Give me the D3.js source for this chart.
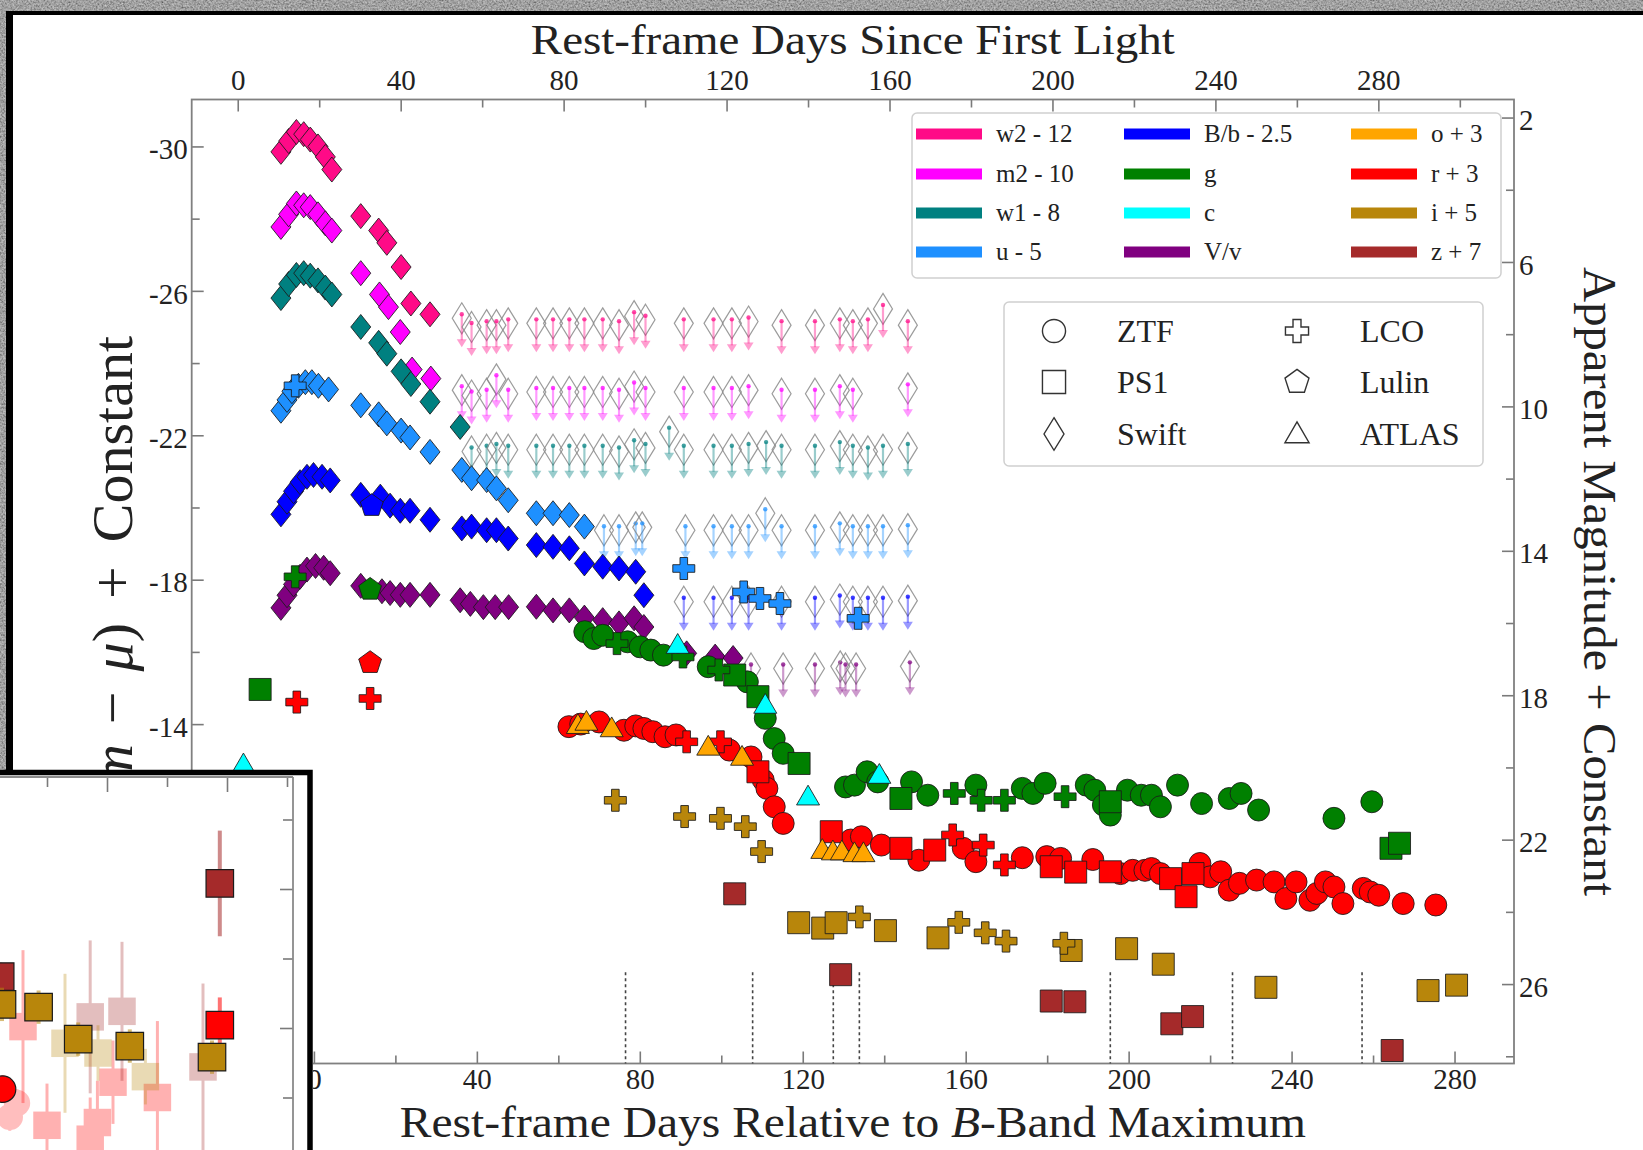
<!DOCTYPE html>
<html><head><meta charset="utf-8">
<script src="https://cdn.jsdelivr.net/npm/d3@7"></script>
<style>body{margin:0;background:#555;overflow:hidden}svg{display:block}</style>
</head><body>
<svg id="c" width="1643" height="1150"></svg>
<script>
// ---------------- DATA ----------------
const X_DOMAIN = [-30, 294.6];          // rest-frame days relative to B max
const Y_DOMAIN = [-31.3, -4.6];         // (m - mu) + const
const FIRST_LIGHT_OFFSET = 18.7;        // top axis = bottom + offset
const APPARENT_OFFSET = 32.8;           // right axis = left + offset
const X_MAJOR = [0,40,80,120,160,200,240,280];
const X_MINOR = [-20,20,60,100,140,180,220,260];
const XTOP_MAJOR = [0,40,80,120,160,200,240,280];
const XTOP_MINOR = [20,60,100,140,180,220,260,300];
const Y_MAJOR = [-30,-26,-22,-18,-14,-10,-6];
const Y_MINOR = [-28,-24,-20,-16,-12,-8];
const YR_MAJOR = [2,6,10,14,18,22,26];
const YR_MINOR = [4,8,12,16,20,24,28];
const SPECTRA_EPOCHS = [76.5,107.7,127.5,133.9,195.5,225.5,257.3];
const SPECTRA_TOP = -7.13;

const W2_SWIFT = [[-8.1,-29.85],[-6.2,-30.15],[-4.3,-30.4],[-2.5,-30.34],[-0.9,-30.19],[1.0,-30.0],[2.8,-29.71],[4.4,-29.36],[11.5,-28.07],[15.9,-27.67],[17.9,-27.33],[21.4,-26.66],[23.8,-25.65],[28.5,-25.35]];
const M2_SWIFT = [[-8.1,-27.77],[-6.2,-28.12],[-4.3,-28.42],[-2.5,-28.37],[-0.9,-28.32],[1.0,-28.12],[2.8,-27.87],[4.4,-27.67],[11.5,-26.49],[16.1,-25.9],[18.3,-25.55],[21.2,-24.86],[24.1,-23.82],[28.7,-23.57]];
const W1_SWIFT = [[-8.1,-25.8],[-6.2,-26.19],[-4.3,-26.44],[-2.5,-26.49],[-0.9,-26.42],[1.0,-26.29],[2.8,-26.09],[4.4,-25.9],[11.5,-25.0],[15.9,-24.56],[17.9,-24.26],[21.4,-23.77],[23.8,-23.42],[28.5,-22.93],[35.9,-22.23]];
const U_SWIFT = [[-8.1,-22.68],[-6.6,-22.98],[-5.4,-23.22],[-3.8,-23.37],[-2.1,-23.47],[-0.5,-23.47],[1.1,-23.37],[3.6,-23.27],[11.5,-22.83],[15.9,-22.58],[17.9,-22.33],[21.4,-22.13],[23.6,-21.94],[28.5,-21.54],[36.3,-21.04],[38.7,-20.81],[42.4,-20.76],[44.8,-20.53],[47.7,-20.2],[54.6,-19.84],[58.7,-19.84],[62.7,-19.79],[66.4,-19.47]];
const U_LCO = [[-4.6,-23.37],[90.8,-18.31],[105.5,-17.66],[109.5,-17.48],[114.4,-17.34],[133.6,-16.93]];
const B_SWIFT = [[-8.1,-19.81],[-6.6,-20.16],[-5.0,-20.45],[-3.4,-20.7],[-1.7,-20.85],[-0.1,-20.9],[2.0,-20.85],[4.0,-20.75],[11.5,-20.35],[16.3,-20.3],[18.7,-20.05],[21.2,-19.91],[23.6,-19.91],[28.5,-19.66],[36.3,-19.42],[38.7,-19.47],[42.4,-19.37],[44.8,-19.37],[47.7,-19.14],[54.6,-18.96],[58.7,-18.91],[62.7,-18.87],[66.4,-18.45],[70.9,-18.36],[74.9,-18.31],[79.0,-18.22],[81.0,-17.57]];
const B_LULIN = [[14.2,-20.05]];
const V_SWIFT = [[-8.1,-17.22],[-6.6,-17.57],[-5.0,-17.87],[-3.4,-18.08],[-1.7,-18.28],[0.4,-18.38],[2.4,-18.33],[4.0,-18.18],[11.5,-17.83],[16.7,-17.68],[18.7,-17.63],[21.2,-17.58],[23.6,-17.58],[28.5,-17.58],[35.9,-17.43],[38.4,-17.33],[41.6,-17.24],[44.5,-17.24],[47.8,-17.24],[54.6,-17.25],[58.7,-17.15],[62.7,-17.15],[66.4,-16.95],[70.9,-16.88],[74.9,-16.79],[78.6,-16.93],[81.0,-16.69],[91.5,-15.96],[98.5,-15.87],[102.9,-15.83]];
const G_ZTF = [[66.5,-16.56],[68.7,-16.37],[70.9,-16.46],[77.0,-16.28],[80.1,-16.14],[82.7,-16.05],[85.8,-15.91],[96.8,-15.59],[106.4,-15.17],[110.8,-14.16],[113.0,-13.6],[115.2,-13.19],[130.5,-12.26],[132.7,-12.31],[135.8,-12.68],[138.4,-12.4],[146.7,-12.4],[150.7,-12.03],[162.5,-12.31],[173.9,-12.22],[176.5,-12.08],[179.5,-12.36],[189.6,-12.31],[191.7,-12.17],[193.8,-11.76],[195.5,-11.48],[199.7,-12.17],[203.1,-12.03],[205.6,-12.03],[207.8,-11.71],[212.0,-12.31],[217.9,-11.8],[224.7,-11.94],[227.6,-12.08],[231.9,-11.62],[250.4,-11.39],[259.7,-11.85]];
const G_PS1 = [[-13.2,-14.96],[103.3,-15.36],[109.0,-14.76],[119.1,-12.91],[144.1,-11.94],[195.5,-11.85],[264.4,-10.56],[266.5,-10.7]];
const G_LCO = [[-4.6,-18.08],[74.4,-16.23],[90.6,-15.86],[99.4,-15.5],[157.2,-12.08],[163.8,-11.89],[169.5,-11.89],[184.4,-11.99]];
const G_LULIN = [[13.8,-17.73]];
const C_ATLAS = [[-17.3,-12.88],[89.3,-16.19],[110.8,-14.53],[121.3,-11.99],[138.8,-12.59]];
const R_ZTF = [[62.6,-13.93],[65.5,-14.0],[70.0,-14.06],[76.1,-13.83],[79.0,-13.95],[81.0,-13.88],[83.2,-13.79],[86.2,-13.65],[88.9,-13.7],[102.0,-13.28],[107.3,-13.09],[110.3,-12.45],[111.2,-12.22],[113.0,-11.71],[115.2,-11.25],[131.8,-10.79],[134.4,-10.88],[139.3,-10.65],[148.5,-10.23],[159.4,-10.56],[162.5,-10.19],[173.9,-10.3],[179.9,-10.33],[183.3,-10.28],[191.2,-10.25],[198.0,-9.86],[201.0,-9.95],[204.0,-9.95],[205.6,-10.0],[207.8,-9.86],[217.5,-10.14],[220.0,-9.77],[222.6,-9.91],[224.7,-9.4],[227.2,-9.59],[231.4,-9.68],[235.7,-9.63],[238.6,-9.17],[241.1,-9.63],[244.5,-9.12],[246.2,-9.31],[248.3,-9.63],[250.4,-9.49],[252.6,-9.03],[257.6,-9.45],[259.3,-9.35],[261.4,-9.26],[267.4,-9.03],[275.4,-8.99]];
const R_PS1 = [[109.0,-12.68],[127.0,-11.02],[144.1,-10.56],[152.4,-10.51],[181.0,-10.05],[187.0,-9.9],[195.5,-9.91],[210.3,-9.72],[214.1,-9.22],[215.8,-9.86]];
const R_LCO = [[-4.2,-14.61],[13.8,-14.71],[91.5,-13.51],[99.8,-13.51],[156.8,-10.93],[164.3,-10.65],[169.5,-10.1]];
const R_LULIN = [[13.8,-15.7]];
const O_ATLAS = [[64.8,-13.97],[66.9,-14.06],[73.1,-13.88],[96.8,-13.37],[105.1,-13.09],[124.8,-10.51],[127.4,-10.47],[129.6,-10.47],[132.7,-10.42],[134.9,-10.42]];
const I_LCO = [[74.0,-11.89],[91.0,-11.44],[99.8,-11.39],[105.9,-11.16],[109.9,-10.47],[133.9,-8.66],[158.3,-8.51],[164.8,-8.22],[169.9,-7.99],[184.1,-7.93]];
const I_PS1 = [[119.0,-8.5],[124.9,-8.35],[128.2,-8.5],[140.3,-8.28],[153.2,-8.08],[185.9,-7.73],[199.5,-7.78],[208.5,-7.35],[233.7,-6.71],[273.5,-6.62],[280.5,-6.77]];
const Z_PS1 = [[103.3,-9.3],[129.3,-7.06],[181.0,-6.33],[186.8,-6.31],[210.6,-5.7],[215.7,-5.9],[264.7,-4.96]];

// Swift upper limits [day, limiting mag]
const LIM_W2 = [[36.3,-25.24],[38.7,-25.0],[42.4,-25.05],[44.8,-25.05],[47.7,-25.1],[54.6,-25.1],[58.7,-25.1],[62.7,-25.1],[66.4,-25.1],[70.9,-25.1],[74.9,-25.05],[78.6,-25.3],[81.4,-25.2],[90.8,-25.1],[98.1,-25.1],[102.6,-25.1],[106.7,-25.15],[114.8,-25.05],[123.0,-25.05],[129.1,-25.1],[132.3,-25.05],[136.0,-25.1],[139.7,-25.5],[145.8,-25.05]];
const LIM_M2 = [[36.3,-23.25],[38.7,-23.1],[42.4,-23.15],[44.8,-23.55],[47.7,-23.15],[54.6,-23.2],[58.7,-23.2],[62.7,-23.2],[66.4,-23.2],[70.9,-23.2],[74.9,-23.15],[78.6,-23.35],[81.4,-23.2],[90.8,-23.2],[98.1,-23.2],[102.6,-23.2],[106.7,-23.25],[114.8,-23.15],[123.0,-23.15],[129.1,-23.25],[132.3,-23.15],[145.8,-23.3]];
const LIM_W1 = [[38.7,-21.55],[42.4,-21.6],[44.8,-21.65],[47.7,-21.6],[54.6,-21.6],[58.7,-21.6],[62.7,-21.6],[66.4,-21.6],[70.9,-21.6],[74.9,-21.55],[78.6,-21.75],[81.4,-21.65],[87.2,-22.1],[90.8,-21.6],[98.1,-21.6],[102.6,-21.6],[106.7,-21.65],[111.0,-21.7],[114.8,-21.6],[123.0,-21.6],[129.1,-21.7],[132.3,-21.6],[136.0,-21.55],[139.7,-21.6],[145.8,-21.65]];
const LIM_U = [[71.2,-19.37],[74.9,-19.37],[79.0,-19.45],[80.6,-19.45],[91.2,-19.37],[98.1,-19.37],[102.6,-19.37],[106.7,-19.37],[110.8,-19.84],[114.8,-19.37],[123.0,-19.37],[129.1,-19.45],[132.3,-19.37],[136.0,-19.37],[139.7,-19.37],[145.8,-19.4]];
const LIM_B = [[90.8,-17.39],[98.1,-17.39],[102.6,-17.39],[106.7,-17.39],[114.8,-17.39],[123.0,-17.39],[129.1,-17.45],[132.3,-17.39],[136.0,-17.39],[139.7,-17.39],[145.8,-17.42]];
const LIM_V = [[107.3,-15.54],[115.2,-15.54],[123.0,-15.54],[129.2,-15.6],[130.5,-15.54],[133.1,-15.54],[146.3,-15.6]];

// legend
const BAND_LABELS = [["w2 - 12","m2 - 10","w1 - 8","u - 5"],["B/b - 2.5","g","c","V/v"],["o + 3","r + 3","i + 5","z + 7"]];
const BAND_KEYS = [["w2","m2","w1","u"],["B","g","c","V"],["o","r","i","z"]];
const INSTR_LABELS = [["ZTF","PS1","Swift"],["LCO","Lulin","ATLAS"]];
const INSTR_SHAPES = [["circle","square","diamond"],["plus","pentagon","triangle"]];

// inset (zoomed view): [x, y, err]
const INSET_Z = [[259.4,23.96,0.38],[241.1,24.63,0.1]];
const INSET_R_SQ = [[259.4,24.98,0.2]];
const INSET_I = [[241.25,24.83,0.12],[244.3,24.85,0.12],[247.6,25.08,0.12],[251.9,25.13,0.12],[258.75,25.21,0.12]];
const INSET_R_CIRC = [[241.3,25.44,0.1]];
const INSET_FADED_R = [[243.0,24.99,0.55],[250.5,25.39,0.3],[254.2,25.5,0.55],[245.0,25.7,0.3],[249.2,25.68,0.3],[248.6,25.8,0.3]];
const INSET_FADED_Z = [[248.6,24.92,0.55],[251.25,24.88,0.5],[258.0,25.28,0.6]];
const INSET_FADED_I = [[246.5,25.11,0.5],[249.25,25.18,0.2],[253.2,25.35,0.2]];
const INSET_FADED_RC = [[242.5,25.54,0.1],[241.9,25.64,0.1]];
const INSET_X_TICKS = [245,250,255,260,265];
const INSET_Y_TICKS = [23.5,24,24.5,25,25.5];

// ---------------- STYLE / LAYOUT ----------------
const COLORS = {w2:"#ff0a87",m2:"#ff00ff",w1:"#008080",u:"#1e90ff",B:"#0000ff",g:"#008000",c:"#00ffff",V:"#800080",o:"#ffa500",r:"#ff0000",i:"#b8860b",z:"#a52a2a"};
const FONT = "'Liberation Serif','DejaVu Serif',serif";
const PL = 191.7, PR = 1514, PT = 99.5, PB = 1063.5;

const svg = d3.select("#c");
const defs = svg.append("defs");
const f = defs.append("filter").attr("id","tex").attr("x",0).attr("y",0).attr("width","100%").attr("height","100%");
f.append("feTurbulence").attr("type","fractalNoise").attr("baseFrequency",0.55).attr("numOctaves",3).attr("seed",7);
f.append("feColorMatrix").attr("type","matrix").attr("values","0.6 0 0 0 0.05  0.6 0 0 0 0.05  0.6 0 0 0 0.05  0 0 0 0 1");
defs.append("clipPath").attr("id","plotclip").append("rect").attr("x",PL).attr("y",PT).attr("width",PR-PL).attr("height",PB-PT);
defs.append("clipPath").attr("id","insetclip").append("rect").attr("x",0).attr("y",777).attr("width",293).attr("height",380);

// background texture and frame
svg.append("rect").attr("width",1643).attr("height",1150).attr("filter","url(#tex)");
svg.append("rect").attr("x",6).attr("y",11).attr("width",2000).attr("height",2000).attr("fill","#000");
svg.append("rect").attr("x",13).attr("y",15).attr("width",2000).attr("height",2000).attr("fill","#fff");

// scales
const x = d3.scaleLinear().domain(X_DOMAIN).range([PL,PR]);
const xTop = d3.scaleLinear().domain(X_DOMAIN.map(d=>d+FIRST_LIGHT_OFFSET)).range([PL,PR]);
const y = d3.scaleLinear().domain(Y_DOMAIN).range([PT,PB]);
const yR = d3.scaleLinear().domain(Y_DOMAIN.map(d=>d+APPARENT_OFFSET)).range([PT,PB]);

// marker shapes
function shapePath(s, k=1){
  switch(s){
    case "circle": {const r=11*k; return `M${r},0A${r},${r} 0 1,1 ${-r},0A${r},${r} 0 1,1 ${r},0Z`;}
    case "square": {const h=11*k; return `M${-h},${-h}H${h}V${h}H${-h}Z`;}
    case "diamond": {const w=10*k,h=12.5*k; return `M0,${-h}L${w},0L0,${h}L${-w},0Z`;}
    case "limdiamond": {const w=9.5*k,h=15.5*k; return `M0,${-h}L${w},0L0,${h}L${-w},0Z`;}
    case "triangle": {const h=11.5*k; return `M0,${-h}L${h},${h*0.72}L${-h},${h*0.72}Z`;}
    case "plus": {const a=11*k,t=3.8*k; return `M${-t},${-a}H${t}V${-t}H${a}V${t}H${t}V${a}H${-t}V${t}H${-a}V${-t}H${-t}Z`;}
    case "pentagon": {const r=12*k; return d3.range(5).map((i,j)=>{const an=-Math.PI/2+i*2*Math.PI/5;return (j?"L":"M")+(r*Math.cos(an)).toFixed(2)+","+(r*Math.sin(an)).toFixed(2);}).join("")+"Z";}
  }
}

// axes
function styleAxis(g){
  g.select(".domain").remove();
  g.selectAll(".tick line").attr("stroke","#7a7a7a").attr("stroke-width",1.6);
  g.selectAll(".tick text").attr("fill","#222").attr("font-family",FONT).attr("font-size",29);
}
const gAx = svg.append("g");
gAx.append("g").attr("transform",`translate(0,${PB})`).call(d3.axisBottom(x).tickValues(X_MAJOR).tickSize(-12).tickPadding(5).tickFormat(d=>String(d))).call(styleAxis);
gAx.append("g").attr("transform",`translate(0,${PB})`).call(d3.axisBottom(x).tickValues(X_MINOR).tickSize(-8).tickFormat("")).call(styleAxis);
gAx.append("g").attr("transform",`translate(0,${PT})`).call(d3.axisTop(xTop).tickValues(XTOP_MAJOR).tickSize(-12).tickPadding(10).tickFormat(d=>String(d))).call(styleAxis);
gAx.append("g").attr("transform",`translate(0,${PT})`).call(d3.axisTop(xTop).tickValues(XTOP_MINOR).tickSize(-8).tickFormat("")).call(styleAxis);
gAx.append("g").attr("transform",`translate(${PL},0)`).call(d3.axisLeft(y).tickValues(Y_MAJOR).tickSize(-12).tickPadding(4).tickFormat(d=>String(d))).call(styleAxis).selectAll(".tick text").attr("dy","0.42em");
gAx.append("g").attr("transform",`translate(${PL},0)`).call(d3.axisLeft(y).tickValues(Y_MINOR).tickSize(-8).tickFormat("")).call(styleAxis);
gAx.append("g").attr("transform",`translate(${PR},0)`).call(d3.axisRight(yR).tickValues(YR_MAJOR).tickSize(-12).tickPadding(5).tickFormat(d=>String(d))).call(styleAxis).selectAll(".tick text").attr("dy","0.42em");
gAx.append("g").attr("transform",`translate(${PR},0)`).call(d3.axisRight(yR).tickValues(YR_MINOR).tickSize(-8).tickFormat("")).call(styleAxis);
svg.append("rect").attr("x",PL).attr("y",PT).attr("width",PR-PL).attr("height",PB-PT).attr("fill","none").attr("stroke","#808080").attr("stroke-width",1.8);

// axis labels
svg.append("text").attr("x",(PL+PR)/2).attr("y",54).attr("text-anchor","middle").attr("font-family",FONT).attr("font-size",43).attr("fill","#222")
  .attr("textLength",644).attr("lengthAdjust","spacingAndGlyphs").text("Rest-frame Days Since First Light");
const bl = svg.append("text").attr("x",(PL+PR)/2).attr("y",1137).attr("text-anchor","middle").attr("font-family",FONT).attr("font-size",45).attr("fill","#222")
  .attr("textLength",906).attr("lengthAdjust","spacingAndGlyphs");
bl.append("tspan").text("Rest-frame Days Relative to ");
bl.append("tspan").attr("font-style","italic").text("B");
bl.append("tspan").text("-Band Maximum");
svg.append("text").attr("transform",`translate(1584,${(PT+PB)/2}) rotate(90)`).attr("text-anchor","middle").attr("font-family",FONT).attr("font-size",46).attr("fill","#222")
  .attr("textLength",629).attr("lengthAdjust","spacingAndGlyphs").text("Apparent Magnitude + Constant");
const ll = svg.append("text").attr("transform",`translate(132,336) rotate(-90)`).attr("text-anchor","end").attr("font-family",FONT).attr("font-size",58).attr("fill","#222");
ll.append("tspan").text("(");
ll.append("tspan").attr("font-style","italic").text("m");
ll.append("tspan").attr("dx",20).text("−");
ll.append("tspan").attr("dx",20).attr("font-style","italic").text("μ");
ll.append("tspan").text(")");
ll.append("tspan").attr("dx",24).text("+");
ll.append("tspan").attr("dx",24).text("Constant");

// dashed spectra lines
svg.append("g").selectAll("line").data(SPECTRA_EPOCHS).join("line")
  .attr("x1",d=>x(d)).attr("x2",d=>x(d)).attr("y1",y(SPECTRA_TOP)).attr("y2",PB)
  .attr("stroke","#444").attr("stroke-width",1.6).attr("stroke-dasharray","3,3");

// plot data
const gP = svg.append("g").attr("clip-path","url(#plotclip)");

function drawLimits(data, band){
  const c = COLORS[band];
  const g = gP.append("g");
  const it = g.selectAll("g").data(data).join("g").attr("transform",d=>`translate(${x(d[0])},${y(d[1])})`);
  it.append("path").attr("d",shapePath("limdiamond")).attr("fill","none").attr("stroke","#8a8a8a").attr("stroke-width",1.2).attr("opacity",0.85);
  it.append("line").attr("x1",0).attr("x2",0).attr("y1",-4).attr("y2",22).attr("stroke",c).attr("stroke-opacity",0.4).attr("stroke-width",2.2);
  it.append("path").attr("d","M-5,21L5,21L0,29Z").attr("fill",c).attr("fill-opacity",0.4);
  it.append("circle").attr("cx",0).attr("cy",-4).attr("r",2.2).attr("fill",c).attr("fill-opacity",0.75);
}
function drawSet(data, shape, band){
  gP.append("g").selectAll("path").data(data).join("path")
    .attr("d",shapePath(shape))
    .attr("transform",d=>`translate(${x(d[0])},${y(d[1])})`)
    .attr("fill",COLORS[band]).attr("stroke","#1a1a1a").attr("stroke-width",1).attr("stroke-opacity",0.85);
}
drawLimits(LIM_W2,"w2"); drawLimits(LIM_M2,"m2"); drawLimits(LIM_W1,"w1");
drawLimits(LIM_U,"u"); drawLimits(LIM_B,"B"); drawLimits(LIM_V,"V");

drawSet(W2_SWIFT,"diamond","w2");
drawSet(M2_SWIFT,"diamond","m2");
drawSet(W1_SWIFT,"diamond","w1");
drawSet(U_SWIFT,"diamond","u");
drawSet(U_LCO,"plus","u");
drawSet(B_SWIFT,"diamond","B");
drawSet(B_LULIN,"pentagon","B");
drawSet(V_SWIFT,"diamond","V");
drawSet(G_ZTF,"circle","g");
drawSet(G_PS1,"square","g");
drawSet(G_LCO,"plus","g");
drawSet(G_LULIN,"pentagon","g");
drawSet(C_ATLAS,"triangle","c");
drawSet(R_ZTF,"circle","r");
drawSet(R_PS1,"square","r");
drawSet(R_LCO,"plus","r");
drawSet(R_LULIN,"pentagon","r");
drawSet(O_ATLAS,"triangle","o");
drawSet(I_PS1,"square","i");
drawSet(I_LCO,"plus","i");
drawSet(Z_PS1,"square","z");

// legend 1 (bands)
const lg1 = svg.append("g");
lg1.append("rect").attr("x",912).attr("y",113).attr("width",589).attr("height",165).attr("rx",5)
  .attr("fill","#fff").attr("fill-opacity",0.85).attr("stroke","#d0d0d0").attr("stroke-width",1.5);
const L1_COLX = [916,1124,1351], L1_ROWY = [134,174,213,252];
BAND_KEYS.forEach((col,ci)=>col.forEach((k,ri)=>{
  lg1.append("line").attr("x1",L1_COLX[ci]).attr("x2",L1_COLX[ci]+66).attr("y1",L1_ROWY[ri]).attr("y2",L1_ROWY[ri])
    .attr("stroke",COLORS[k]).attr("stroke-width",11);
  lg1.append("text").attr("x",L1_COLX[ci]+80).attr("y",L1_ROWY[ri]+8).attr("font-family",FONT).attr("font-size",25).attr("fill","#222").text(BAND_LABELS[ci][ri]);
}));

// legend 2 (instruments)
const lg2 = svg.append("g");
lg2.append("rect").attr("x",1004).attr("y",302).attr("width",479).attr("height",164).attr("rx",5)
  .attr("fill","#fff").attr("fill-opacity",0.85).attr("stroke","#d0d0d0").attr("stroke-width",1.5);
const L2_COLX = [1054,1297], L2_ROWY = [331,382,434];
INSTR_LABELS.forEach((col,ci)=>col.forEach((lab,ri)=>{
  const sh = INSTR_SHAPES[ci][ri];
  lg2.append("path").attr("d",shapePath(sh==="diamond"?"limdiamond":sh,1.05)).attr("transform",`translate(${L2_COLX[ci]},${L2_ROWY[ri]})`)
    .attr("fill","#fff").attr("stroke","#333").attr("stroke-width",1.4);
  lg2.append("text").attr("x",L2_COLX[ci]+63).attr("y",L2_ROWY[ri]+11).attr("font-family",FONT).attr("font-size",32).attr("fill","#222").text(lab);
}));

// ---------------- INSET ----------------
const ix = d3.scaleLinear().domain([250,260]).range([107,227]);
const iy = d3.scaleLinear().domain([24,25]).range([889,1028]);
const gI = svg.append("g");
gI.append("rect").attr("x",-10).attr("y",772).attr("width",323).attr("height",400).attr("fill","#fff");
const gIc = gI.append("g").attr("clip-path","url(#insetclip)");
function insetSet(data, shape, band, k, alpha, ew){
  const g = gIc.append("g").attr("opacity",alpha);
  g.selectAll("line").data(data).join("line")
    .attr("x1",d=>ix(d[0])).attr("x2",d=>ix(d[0])).attr("y1",d=>iy(d[1]-d[2])).attr("y2",d=>iy(d[1]+d[2]))
    .attr("stroke",COLORS[band]).attr("stroke-width",ew).attr("stroke-opacity",alpha<1?1:0.55);
  g.selectAll("path").data(data).join("path").attr("d",shapePath(shape,k))
    .attr("transform",d=>`translate(${ix(d[0])},${iy(d[1])})`)
    .attr("fill",COLORS[band]).attr("stroke",alpha<1?"none":"#1a1a1a").attr("stroke-width",1.2);
}
insetSet(INSET_FADED_R,"square","r",1.25,0.3,3);
insetSet(INSET_FADED_Z,"square","z",1.25,0.3,3);
insetSet(INSET_FADED_I,"square","i",1.25,0.3,3);
insetSet(INSET_FADED_RC,"circle","r",1.2,0.25,3);
insetSet(INSET_Z,"square","z",1.25,1,4);
insetSet(INSET_R_SQ,"square","r",1.25,1,4);
insetSet(INSET_I,"square","i",1.25,1,4);
insetSet(INSET_R_CIRC,"circle","r",1.2,1,4);
// inset axes (ticks inward, no labels)
const gIa = gI.append("g");
gIa.append("g").attr("transform","translate(0,777)")
  .call(d3.axisBottom(ix).tickValues(INSET_X_TICKS).tickSize(12).tickFormat(""))
  .call(g=>{g.select(".domain").remove(); g.selectAll(".tick line").attr("stroke","#7a7a7a").attr("stroke-width",1.6).attr("y2",d=>d%10===0?15:10);});
gIa.append("g").attr("transform","translate(293,0)")
  .call(d3.axisLeft(iy).tickValues(INSET_Y_TICKS).tickSize(12).tickFormat(""))
  .call(g=>{g.select(".domain").remove(); g.selectAll(".tick line").attr("stroke","#7a7a7a").attr("stroke-width",1.6).attr("x2",d=>d%1===0?-13:-10);});
gIa.append("line").attr("x1",0).attr("x2",293).attr("y1",777).attr("y2",777).attr("stroke","#8a8a8a").attr("stroke-width",1.8);
gIa.append("line").attr("x1",293).attr("x2",293).attr("y1",777).attr("y2",1150).attr("stroke","#8a8a8a").attr("stroke-width",1.8);
// inset black border
gI.append("path").attr("d","M0,772.5H310V1152").attr("fill","none").attr("stroke","#000").attr("stroke-width",5.5);
</script>
</body></html>
